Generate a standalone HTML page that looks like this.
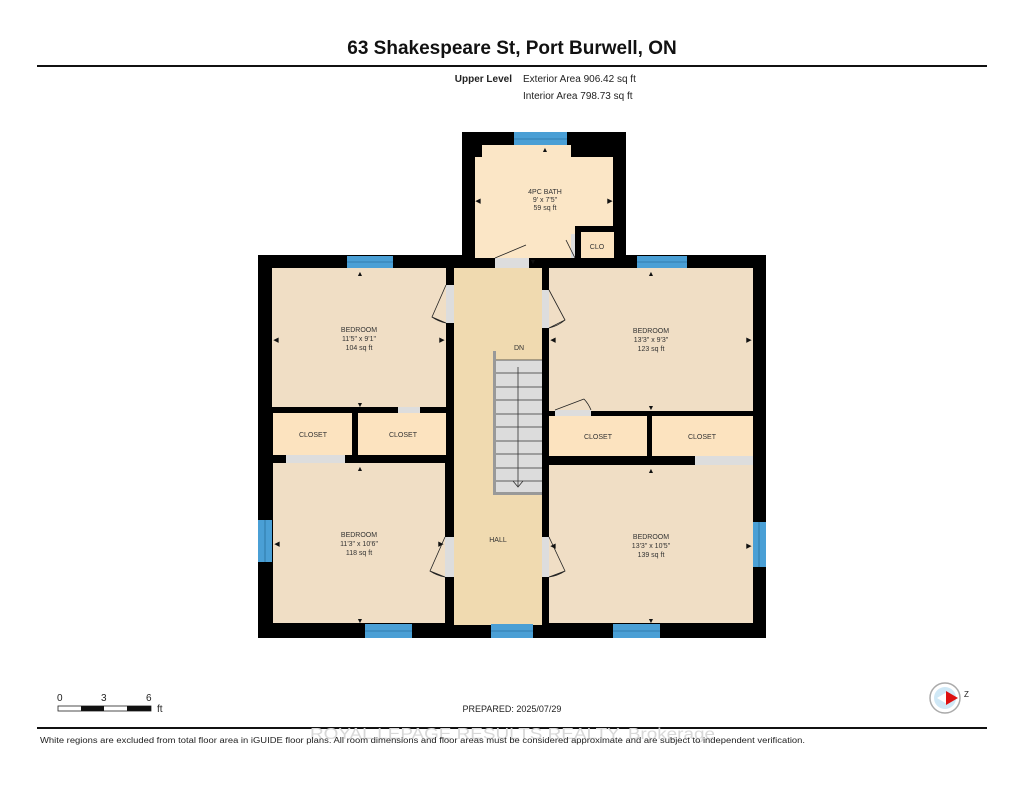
<!DOCTYPE html>
<html><head><meta charset="utf-8"><style>
body{margin:0;width:1024px;height:791px;background:#fff;overflow:hidden;font-family:"Liberation Sans",sans-serif;}
</style></head><body>
<svg width="1024" height="791" xmlns="http://www.w3.org/2000/svg" font-family="Liberation Sans, sans-serif">
<text x="512" y="54" text-anchor="middle" font-size="19" font-weight="bold" fill="#111">63 Shakespeare St, Port Burwell, ON</text>
<rect x="37" y="65" width="950" height="2" fill="#111"/>
<text x="512" y="82" text-anchor="end" font-size="10" font-weight="bold" fill="#222">Upper Level</text>
<text x="523" y="82" font-size="10" fill="#222">Exterior Area 906.42 sq ft</text>
<text x="523" y="99" font-size="10" fill="#222">Interior Area 798.73 sq ft</text>

<rect x="462" y="132" width="164" height="130" fill="#000"/>
<rect x="258" y="255" width="508" height="383" fill="#000"/>
<polygon points="482,145 571,145 571,157 613,157 613,258 475,258 475,157 482,157" fill="#fbe6c6"/>
<rect x="575" y="226" width="38" height="6" fill="#000"/>
<rect x="581" y="232" width="33" height="26" fill="#fce3bf"/>
<rect x="575" y="232" width="6" height="26" fill="#000"/>
<rect x="514" y="132" width="53" height="13" fill="#4a9fd5"/>
<rect x="272" y="268" width="174" height="139" fill="#f0dec5"/>
<rect x="454" y="268" width="88" height="357" fill="#f0dab0"/>
<rect x="549" y="268" width="204" height="143" fill="#f0dec5"/>
<rect x="273" y="413" width="79" height="42" fill="#fce3bf"/>
<rect x="358" y="413" width="88" height="42" fill="#fce3bf"/>
<rect x="549" y="416" width="98" height="40" fill="#fce3bf"/>
<rect x="652" y="416" width="101" height="40" fill="#fce3bf"/>
<rect x="273" y="463" width="172" height="160" fill="#f0dec5"/>
<rect x="549" y="465" width="204" height="158" fill="#f0dec5"/>
<g fill="#4a9fd5">
<rect x="347" y="256" width="46" height="12"/>
<rect x="637" y="256" width="50" height="12"/>
<rect x="258" y="520" width="14" height="42"/>
<rect x="753" y="522" width="13" height="45"/>
<rect x="365" y="624" width="47" height="14"/>
<rect x="491" y="624" width="42" height="14"/>
<rect x="613" y="624" width="47" height="14"/>
</g>
<g stroke="#1d5f8a" stroke-width="0.6">
<line x1="514" y1="139" x2="567" y2="139"/><line x1="347" y1="262" x2="393" y2="262"/><line x1="637" y1="262" x2="687" y2="262"/>
<line x1="365" y1="631" x2="412" y2="631"/><line x1="491" y1="631" x2="533" y2="631"/><line x1="613" y1="631" x2="660" y2="631"/>
<line x1="265" y1="520" x2="265" y2="562"/><line x1="759" y1="522" x2="759" y2="567"/>
</g>
<g fill="#ddd">
<rect x="495" y="258" width="34" height="10"/>
<rect x="446" y="285" width="8" height="38"/>
<rect x="542" y="290" width="7" height="38"/>
<rect x="398" y="407" width="22" height="6"/>
<rect x="555" y="410" width="36" height="6"/>
<rect x="286" y="455" width="59" height="8"/>
<rect x="695" y="456" width="58" height="9"/>
<rect x="445" y="537" width="9" height="40"/>
<rect x="542" y="537" width="7" height="40"/>
<rect x="571" y="234" width="4" height="24"/>
</g>
<g fill="none" stroke="#222" stroke-width="0.8">
<path d="M495,258 L526,245 M446,323 L432,317 L446,285 M432,317 A38,38 0 0,0 446,323"/>
<path d="M549,328 L565,320 L549,290 M565,320 A38,38 0 0,1 549,328"/>
<path d="M555,410 L584,399 M584,399 A36,36 0 0,1 591,410"/>
<path d="M445,577 L430,571 L445,537 M430,571 A40,40 0 0,0 445,577"/>
<path d="M549,577 L565,571 L549,537 M565,571 A40,40 0 0,1 549,577"/>
<path d="M575,258 L566,240"/>
</g>
<rect x="493" y="351" width="3" height="144" fill="#999"/>
<rect x="496" y="360" width="46" height="135" fill="#dcdcdc"/>
<rect x="493" y="492" width="49" height="3" fill="#999"/>
<g stroke="#333" stroke-width="0.8">
<line x1="496" y1="360" x2="542" y2="360"/><line x1="496" y1="373" x2="542" y2="373"/><line x1="496" y1="387" x2="542" y2="387"/>
<line x1="496" y1="400" x2="542" y2="400"/><line x1="496" y1="414" x2="542" y2="414"/><line x1="496" y1="427" x2="542" y2="427"/>
<line x1="496" y1="441" x2="542" y2="441"/><line x1="496" y1="454" x2="542" y2="454"/><line x1="496" y1="468" x2="542" y2="468"/>
<line x1="496" y1="481" x2="542" y2="481"/>
<line x1="518" y1="367" x2="518" y2="487"/><path d="M513,481 L518,487 L523,481" fill="none"/>
</g>
<g font-size="7" fill="#333" text-anchor="middle">
<text x="545" y="194">4PC BATH</text><text x="545" y="202">9' x 7'5"</text><text x="545" y="210">59 sq ft</text>
<text x="597" y="249">CLO</text>
<text x="359" y="332">BEDROOM</text><text x="359" y="341">11'5" x 9'1"</text><text x="359" y="350">104 sq ft</text>
<text x="651" y="333">BEDROOM</text><text x="651" y="342">13'3" x 9'3"</text><text x="651" y="351">123 sq ft</text>
<text x="519" y="350">DN</text>
<text x="313" y="437">CLOSET</text><text x="403" y="437">CLOSET</text>
<text x="598" y="439">CLOSET</text><text x="702" y="439">CLOSET</text>
<text x="359" y="537">BEDROOM</text><text x="359" y="546">11'3" x 10'6"</text><text x="359" y="555">118 sq ft</text>
<text x="498" y="542">HALL</text>
<text x="651" y="539">BEDROOM</text><text x="651" y="548">13'3" x 10'5"</text><text x="651" y="557">139 sq ft</text>
</g>
<g fill="#111" font-size="7" text-anchor="middle">
<text x="545" y="152">▲</text><text x="478" y="203">◀</text><text x="610" y="203">▶</text><text x="533" y="264">▼</text>
<text x="360" y="276">▲</text><text x="276" y="342">◀</text><text x="442" y="342">▶</text><text x="360" y="407">▼</text>
<text x="651" y="276">▲</text><text x="553" y="342">◀</text><text x="749" y="342">▶</text><text x="651" y="410">▼</text>
<text x="360" y="471">▲</text><text x="277" y="546">◀</text><text x="441" y="546">▶</text><text x="360" y="623">▼</text>
<text x="651" y="473">▲</text><text x="553" y="548">◀</text><text x="749" y="548">▶</text><text x="651" y="623">▼</text>
</g>
<g font-size="10" fill="#222"><text x="57" y="701">0</text><text x="101" y="701">3</text><text x="146" y="701">6</text><text x="157" y="712">ft</text></g>
<rect x="58" y="706" width="93" height="5" fill="#fff" stroke="#222" stroke-width="0.8"/>
<rect x="81" y="706" width="23" height="5" fill="#111"/><rect x="127" y="706" width="24" height="5" fill="#111"/>
<text x="512" y="712" text-anchor="middle" font-size="9" fill="#222">PREPARED: 2025/07/29</text>
<circle cx="945" cy="698" r="15" fill="#fff" stroke="#aaa" stroke-width="1.5"/>
<circle cx="945" cy="698" r="11" fill="#cfe8f6"/>
<polygon points="937,698 947,692 947,704" fill="#fff"/>
<polygon points="958,698 946,691 946,705" fill="#d11"/>
<text x="964" y="697" font-size="8" fill="#222">Z</text>
<rect x="37" y="727" width="950" height="2" fill="#111"/>
<text x="310" y="739" font-size="16" fill="#d8d8d8" textLength="405" lengthAdjust="spacingAndGlyphs">ROYAL LEPAGE RESULTS REALTY, Brokerage</text>
<text x="40" y="743" font-size="8" fill="#222" textLength="765" lengthAdjust="spacingAndGlyphs">White regions are excluded from total floor area in iGUIDE floor plans. All room dimensions and floor areas must be considered approximate and are subject to independent verification.</text>
</svg>
</body></html>
